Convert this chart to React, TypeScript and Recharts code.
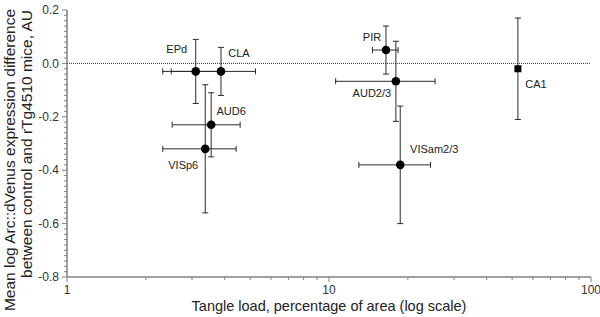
import { ScatterChart, Scatter, XAxis, YAxis, ErrorBar, ReferenceLine } from "recharts"

// brain regions, tangle load (% area, mean ± SEM) and Arc::dVenus difference (mean ± SEM)
const REGIONS = ["EPd", "CLA", "AUD6", "VISp6", "PIR", "AUD2/3", "VISam2/3", "CA1"]
const TANGLE_LOAD = [3.1, 3.87, 3.55, 3.37, 16.5, 18.0, 18.7, 52.6]
const TANGLE_SEM = [0.78, 1.37, 1.03, 1.05, 1.85, 7.4, 5.7, 0]
const EXPR_DIFF = [-0.03, -0.03, -0.23, -0.32, 0.05, -0.067, -0.38, -0.02]
const EXPR_SEM = [0.12, 0.09, 0.12, 0.24, 0.09, 0.15, 0.22, 0.19]

const SQUARE_MARKERS = ["CA1"]

const X_TICKS = [1, 2, 3, 4, 5, 6, 7, 8, 9, 10, 20, 30, 40, 50, 60, 70, 80, 90, 100]
const X_LABELED = [1, 10, 100]
const Y_LABELED = [-0.8, -0.6, -0.4, -0.2, 0, 0.2]
const Y_MINOR_STEP = 0.02

const Y_TICKS: number[] = []
for (let v = -0.8; v <= 0.2001; v += Y_MINOR_STEP) Y_TICKS.push(Math.round(v * 100) / 100)

// where each region's name sits relative to its marker (text centre)
const LABEL_OFFSETS: Record<string, [number, number]> = {
    EPd: [-19, -22],
    CLA: [18, -18],
    AUD6: [20, -14],
    VISp6: [-22, 16],
    PIR: [-14, -13],
    "AUD2/3": [-24, 12],
    "VISam2/3": [34, -16],
    CA1: [18, 15],
}

const FONT = "'Liberation Sans', Arial, sans-serif"
const AXIS_COLOR = "#808080"
const BAR_COLOR = "#2a2a2a"

const points = REGIONS.map((name, i) => ({
    name,
    x: TANGLE_LOAD[i],
    xErr: TANGLE_SEM[i],
    y: EXPR_DIFF[i],
    yErr: EXPR_SEM[i],
}))
const circlePoints = points.filter(p => !SQUARE_MARKERS.includes(p.name))
const squarePoints = points.filter(p => SQUARE_MARKERS.includes(p.name))

const Marker = (props: any) => {
    const { cx, cy, payload } = props
    const square = SQUARE_MARKERS.includes(payload.name)
    const [dx, dy] = LABEL_OFFSETS[payload.name] || [0, 0]
    return (
        <g>
            {square
                ? <rect x={cx - 3.5} y={cy - 3.5} width={7} height={7} fill="#000" />
                : <circle cx={cx} cy={cy} r={4.3} fill="#000" />}
            <text x={cx + dx} y={cy + dy} dy="0.35em" textAnchor="middle"
                fontSize={11} fontFamily={FONT} fill="#222">{payload.name}</text>
        </g>
    )
}

const XTick = (props: any) => {
    const { x, y, payload } = props
    const major = X_LABELED.includes(payload.value)
    return (
        <g>
            <line x1={x} x2={x} y1={y} y2={y + (major ? 5 : 3)} stroke={AXIS_COLOR} />
            {major && (
                <text x={x} y={y + 17} textAnchor="middle" fontSize={12} fontFamily={FONT} fill="#333">
                    {payload.value}
                </text>
            )}
        </g>
    )
}

const YTick = (props: any) => {
    const { x, y, payload } = props
    const major = Y_LABELED.some(v => Math.abs(v - payload.value) < 1e-6)
    return (
        <g>
            <line x1={x} x2={x - (major ? 5 : 3)} y1={y} y2={y} stroke={AXIS_COLOR} />
            {major && (
                <text x={x - 8} y={y} dy="0.35em" textAnchor="end" fontSize={12} fontFamily={FONT} fill="#333">
                    {payload.value.toFixed(1)}
                </text>
            )}
        </g>
    )
}

const YTitle = () => (
    <g fontFamily={FONT} fontSize={15.5} fill="#222" textAnchor="middle">
        <text transform="translate(15, 160) rotate(-90)">Mean log Arc::dVenus expression difference</text>
        <text transform="translate(32, 144) rotate(-90)">between control and rTg4510 mice, AU</text>
    </g>
)

const XTitle = () => (
    <text x={329} y={311} textAnchor="middle" fontFamily={FONT} fontSize={14.5} fill="#222">
        Tangle load, percentage of area (log scale)
    </text>
)

export default function App() {
    return (
        <div style={{ position: "absolute", left: 0, top: 0, width: 600, height: 317, background: "#fff" }}>
            <ScatterChart width={600} height={317} margin={{ top: 10, right: 9, bottom: 0, left: 0 }}>
                <XAxis
                    type="number"
                    dataKey="x"
                    scale="log"
                    domain={[1, 100]}
                    ticks={X_TICKS}
                    interval={0}
                    allowDataOverflow
                    height={40}
                    tickSize={0}
                    tickMargin={0}
                    tickLine={false}
                    tick={XTick}
                    axisLine={{ stroke: AXIS_COLOR, strokeWidth: 1.5 }}
                    label={XTitle}
                />
                <YAxis
                    type="number"
                    dataKey="y"
                    domain={[-0.8, 0.2]}
                    ticks={Y_TICKS}
                    interval={0}
                    allowDataOverflow
                    width={67}
                    tickSize={0}
                    tickMargin={0}
                    tickLine={false}
                    tick={YTick}
                    axisLine={{ stroke: AXIS_COLOR, strokeWidth: 1.5 }}
                    label={YTitle}
                />
                <ReferenceLine y={0} stroke="#333" strokeDasharray="1 1" ifOverflow="extendDomain" />
                <Scatter data={circlePoints} shape={Marker} isAnimationActive={false}>
                    <ErrorBar dataKey="xErr" direction="x" width={3} stroke={BAR_COLOR} strokeWidth={1} isAnimationActive={false} />
                    <ErrorBar dataKey="yErr" direction="y" width={3} stroke={BAR_COLOR} strokeWidth={1} isAnimationActive={false} />
                </Scatter>
                <Scatter data={squarePoints} shape={Marker} isAnimationActive={false}>
                    <ErrorBar dataKey="yErr" direction="y" width={3} stroke={BAR_COLOR} strokeWidth={1} isAnimationActive={false} />
                </Scatter>
            </ScatterChart>
        </div>
    )
}
